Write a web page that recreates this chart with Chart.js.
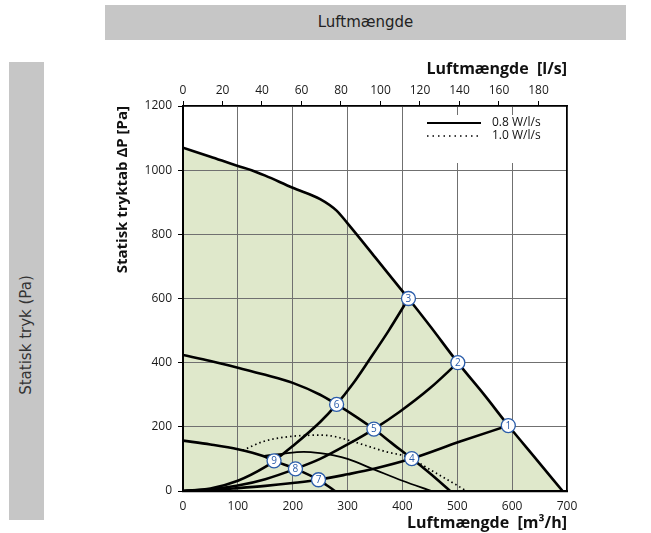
<!DOCTYPE html>
<html><head><meta charset="utf-8">
<script src="https://cdn.jsdelivr.net/npm/chart.js@4/dist/chart.umd.min.js"></script>
<style>
html,body{margin:0;padding:0;background:#fff;width:651px;height:533px;overflow:hidden;}
#hdr{position:absolute;left:105px;top:5px;width:521px;height:35px;background:#c6c6c6;font:15px "DejaVu Sans",sans-serif;color:#222;text-align:center;line-height:34px;}
#side{position:absolute;left:9px;top:62px;width:35px;height:458px;background:#c6c6c6;}
#sideTxt{position:absolute;left:26px;top:335px;transform:translate(-50%,-50%) rotate(-90deg);white-space:nowrap;font:15px "DejaVu Sans",sans-serif;color:#333;}
#c{position:absolute;left:0;top:0;}
</style></head><body>
<div id="hdr">Luftmængde</div>
<div id="side"></div><div id="sideTxt">Statisk tryk (Pa)</div>
<canvas id="c" width="651" height="533"></canvas>
<script>
// ---- data (x: m³/h, y: Pa) ----
const maxCurveX = [0,50,100,125,150,200,250,280,300,350,400,411,450,501,550,593,640,692];
const maxCurveY = [1070,1042,1013,1000,983,945,910,874,834,729,623,600,515,400,298,204,107,0];
const fanMidX = [0,50,100,150,200,250,280,315,348,380,417,450,487];
const fanMidY = [424,405,384,362,337,300,270,232,193,150,101,55,0];
const fanLowX = [0,50,100,146,166,205,247,262,277];
const fanLowY = [157,145,130,109,94,69,35,18,0];
const thinX = [146,180,220,250,275,300,350,400,453];
const thinY = [109,116,122,118,111,100,66,32,0];
const dottedX = [109,146,182,219,250,273,310,371,407,462,517];
const dottedY = [127,154,167,173,174,171,154,122,107,55,0];
const sysAX = [0,50,100,150,166,200,250,280,310,340,375,411];
const sysAY = [0,8,32,75,94,140,215,270,335,410,500,600];
const sysBX = [0,50,100,150,205,250,300,348,395,450,501];
const sysBY = [0,5,17,37,69,100,145,193,247,320,400];
const sysCX = [0,50,100,150,200,247,300,350,417,505,593];
const sysCY = [0,3,9,16,25,35,52,70,101,154,204];
const markerLabels = ['1','2','3','4','5','6','7','8','9'];
const markerX = [593,501,411,417,348,280,247,205,166];
const markerY = [204,400,600,101,193,270,35,69,94];
const x2TickValues = [0,20,40,60,80,100,120,140,160,180];   // l/s
const legendLabels = ['0.8 W/l/s','1.0 W/l/s'];
const xTitle = 'Luftmængde  [m³/h]';
const x2Title = 'Luftmængde  [l/s]';
const yTitle = 'Statisk tryktab ΔP [Pa]';

const pts = (xs, ys) => xs.map((x,i)=>({x, y: ys[i]}));
const FONT = '"Open Sans", "DejaVu Sans", sans-serif';

function curve(xs, ys, extra) {
  return Object.assign({
    data: pts(xs, ys), showLine: true, borderColor: '#000', borderWidth: 2.6,
    pointRadius: 0, cubicInterpolationMode: 'monotone', fill: false, order: 2
  }, extra || {});
}

const datasets = [
  curve(maxCurveX, maxCurveY, {fill: 'origin', backgroundColor: '#dfe8cb', order: 5}),
  curve(fanMidX, fanMidY),
  curve(fanLowX, fanLowY),
  curve(thinX, thinY, {borderWidth: 1.8}),
  curve(dottedX, dottedY, {borderWidth: 1.7, borderDash: [1.5, 3]}),
  curve(sysAX, sysAY),
  curve(sysBX, sysBY),
  curve(sysCX, sysCY),
  {data: pts(markerX, markerY), showLine: false, pointRadius: 7, pointHoverRadius: 7,
   pointBackgroundColor: '#fff', pointBorderColor: '#2a5caa', pointBorderWidth: 1.3, order: -1}
];
const markerIndex = datasets.length - 1;

const markerLabelPlugin = {
  id: 'markerLabels',
  afterDatasetsDraw(chart) {
    const meta = chart.getDatasetMeta(markerIndex);
    const ctx = chart.ctx;
    ctx.save();
    ctx.font = '10px ' + FONT;
    ctx.fillStyle = '#2a5caa';
    ctx.textAlign = 'center';
    ctx.textBaseline = 'middle';
    meta.data.forEach((el, i) => ctx.fillText(markerLabels[i], el.x, el.y + 0.5));
    ctx.restore();
  }
};

const legendPlugin = {
  id: 'inlineLegend',
  beforeDatasetsDraw(chart) {
    const {ctx, chartArea: a} = chart;
    ctx.save();
    ctx.fillStyle = '#fff';
    ctx.fillRect(a.right - 152, a.top + 9, 151, 48);
    ctx.font = '12px ' + FONT;
    ctx.textBaseline = 'middle';
    ctx.textAlign = 'left';
    legendLabels.forEach((t, i) => {
      const y = a.top + 17 + i * 13;
      ctx.beginPath();
      ctx.strokeStyle = '#000';
      ctx.lineWidth = i ? 1.5 : 2.2;
      ctx.setLineDash(i ? [1.5, 4] : []);
      ctx.moveTo(a.right - 140, y);
      ctx.lineTo(a.right - 86, y);
      ctx.stroke();
      ctx.setLineDash([]);
      ctx.fillStyle = '#111';
      ctx.fillText(t, a.right - 75, y);
    });
    ctx.restore();
  }
};

const GRID = '#707070';
const plain = v => String(Math.round(v));
new Chart(document.getElementById('c'), {
  type: 'scatter',
  data: {datasets},
  options: {
    responsive: false, animation: false, devicePixelRatio: 1,
    layout: {padding: {left: 105, top: 50, right: 84, bottom: 0}},
    plugins: {
      legend: {display: false}, tooltip: {enabled: false},
      filler: {drawTime: 'beforeDraw'}
    },
    scales: {
      x: {
        type: 'linear', position: 'bottom', min: 0, max: 700,
        afterFit: s => { s.height = 42; },
        ticks: {stepSize: 100, padding: 8, autoSkip: false, maxRotation: 0, color: '#1a1a1a', font: {family: FONT, size: 12}, callback: plain},
        grid: {color: GRID, lineWidth: 1, drawTicks: false},
        border: {color: '#000', width: 2.2},
        title: {display: true, text: xTitle, align: 'end', color: '#111',
                font: {family: FONT, size: 16, weight: 'bold'}, padding: {top: 0, bottom: 0}}
      },
      x2: {
        type: 'linear', position: 'top', min: 0, max: 700 / 3.6,
        afterFit: s => { s.height = 56; },
        afterBuildTicks: s => { s.ticks = x2TickValues.map(v => ({value: v})); },
        ticks: {padding: 3, autoSkip: false, maxRotation: 0, color: '#1a1a1a', font: {family: FONT, size: 12}, callback: plain},
        grid: {drawOnChartArea: false, tickLength: 5, tickColor: '#000'},
        border: {color: '#000', width: 1.5},
        title: {display: true, text: x2Title, align: 'end', color: '#111',
                font: {family: FONT, size: 16, weight: 'bold'}, padding: {top: 10, bottom: 0}}
      },
      y: {
        type: 'linear', position: 'left', min: 0, max: 1200,
        afterFit: s => { s.width = 78; },
        ticks: {stepSize: 200, padding: 6, color: '#1a1a1a', font: {family: FONT, size: 12}, callback: plain},
        grid: {color: GRID, lineWidth: 1, tickLength: 5, tickColor: '#000'},
        border: {color: '#000', width: 2},
        title: {display: true, text: yTitle, align: 'end', color: '#111',
                font: {family: FONT, size: 15, weight: 'bold'}, padding: {top: 9, bottom: 0}}
      },
      y2: {
        type: 'linear', position: 'right', min: 0, max: 1200,
        afterFit: s => { s.width = 0; },
        ticks: {display: false},
        grid: {drawOnChartArea: false, drawTicks: false},
        border: {color: '#000', width: 1.5}
      }
    }
  },
  plugins: [legendPlugin, markerLabelPlugin]
});
</script>
</body></html>
